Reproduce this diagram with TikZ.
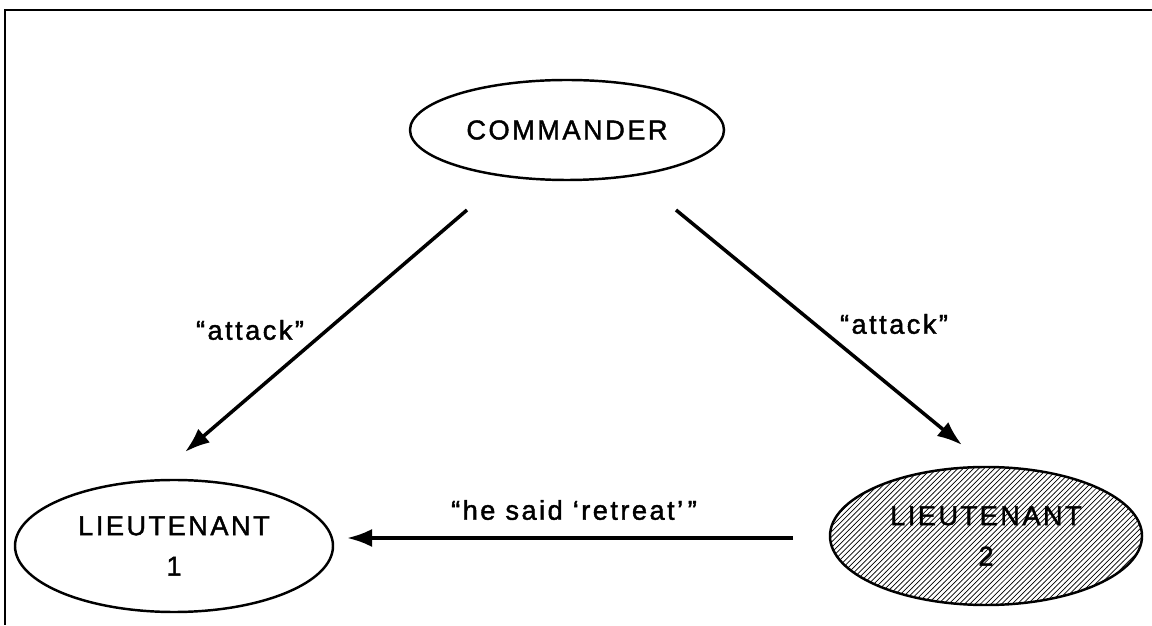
\documentclass[tikz,border=0pt]{standalone}
\usepackage{fontspec}
\setmainfont{Liberation Sans}[LetterSpace=9,FakeBold=1.5]
\usetikzlibrary{shapes.geometric,patterns,arrows.meta}
\tikzset{
  party/.style={ellipse, draw, line width=1.4pt, inner sep=0pt, align=center,
    font=\fontsize{15.5}{23}\selectfont},
  order/.style={-{Latex[length=5mm,width=3.6mm]}, line width=2pt},
  saying/.style={font=\fontsize{15.5}{18}\selectfont}
}
\begin{document}
\begin{tikzpicture}
\useasboundingbox (0,0) rectangle (23.04,12.5);
% frame (top and left edge only)
\draw[line width=1pt] (23.04,12.3) -- (0.1,12.3) -- (0.1,0);
% the three parties
\node[party, minimum width=6.28cm, minimum height=2cm] (cmd) at (11.34,9.9) {COMMANDER};
\node[party, minimum width=6.36cm, minimum height=2.64cm] (lt1) at (3.48,1.58) {LIEUTENANT\\1};
\node[party, pattern=north east lines, minimum width=6.24cm, minimum height=2.76cm] (lt2) at (19.72,1.78) {LIEUTENANT\\2};
% arrow ends
\coordinate (c1) at (9.34,8.3);
\coordinate (l1) at (3.7,3.46);
\coordinate (c2) at (13.52,8.3);
\coordinate (l2) at (19.24,3.6);
\coordinate (r2) at (15.86,1.74);
\coordinate (r1) at (6.94,1.74);
\draw[order] (c1) -- (l1);
\draw[order] (c2) -- (l2);
\draw[order] (r2) -- (r1);
% messages
\node[saying] (m1) at (5.0,5.9) {``attack''};
\node[saying] (m2) at (17.88,6.02) {``attack''};
\node[saying] (m3) at (11.48,2.3) {``he said `retreat'\,''};
\end{tikzpicture}
\end{document}
